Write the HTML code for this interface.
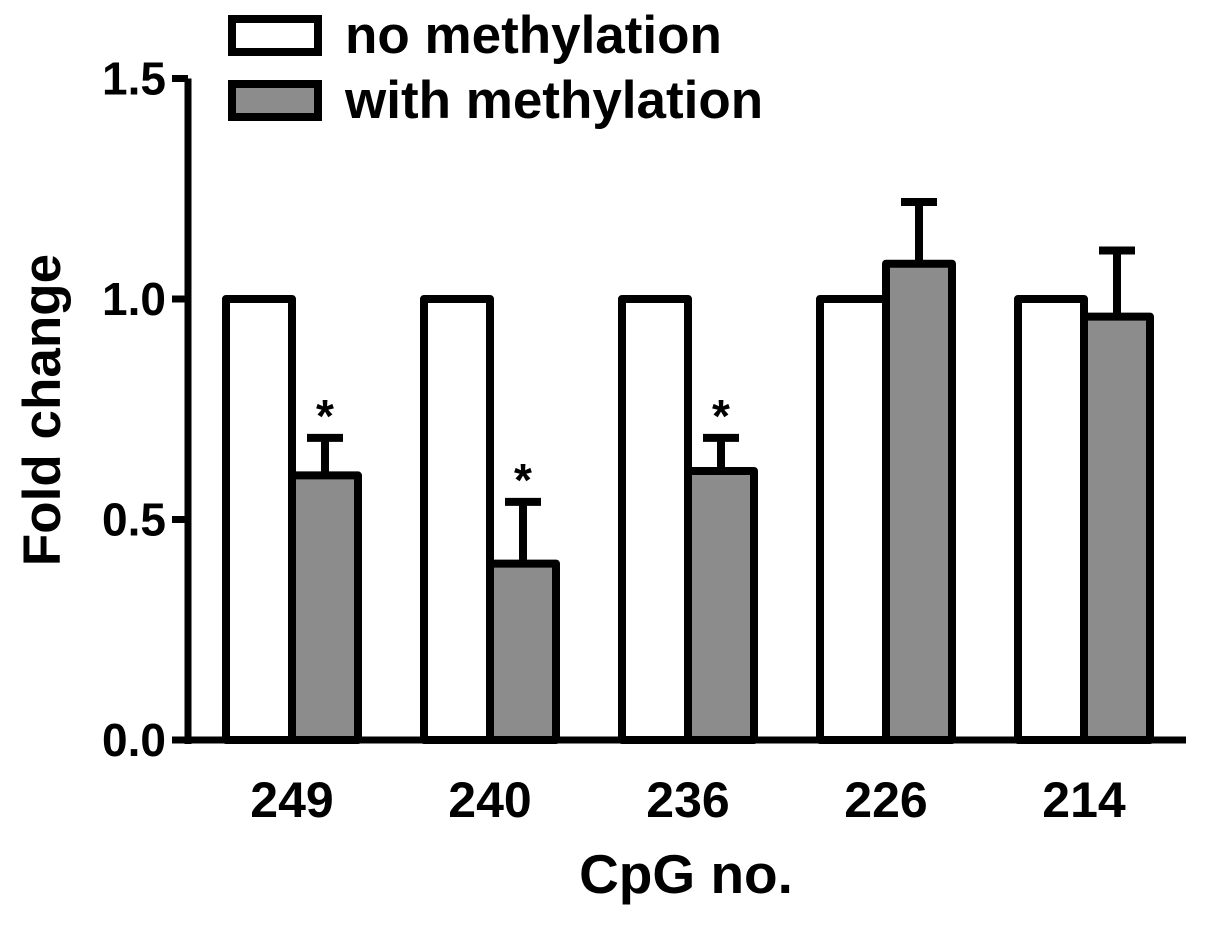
<!DOCTYPE html>
<html><head><meta charset="utf-8"><style>
body{margin:0;background:#fff;}
svg text{font-family:"Liberation Sans",Arial,sans-serif;font-weight:bold;fill:#000;}
</style></head><body>
<svg id="chart" width="1205" height="925" viewBox="0 0 1205 925" xmlns="http://www.w3.org/2000/svg">
<g id="legend">
 <rect x="232" y="19" width="86" height="33" fill="#fff" stroke="#000" stroke-width="8"/>
 <text x="345" y="53" font-size="53">no methylation</text>
 <rect x="232" y="84" width="86" height="33" fill="#8c8c8c" stroke="#000" stroke-width="8"/>
 <text x="345" y="118" font-size="53">with methylation</text>
</g>
<g id="bars"></g>
<g id="axes"></g>
<text transform="translate(60,410) rotate(-90)" text-anchor="middle" font-size="53">Fold change</text>
<text x="686" y="893" text-anchor="middle" font-size="55">CpG no.</text>
</svg>
<script>
const categories = ["249","240","236","226","214"];
const noMeth = [1,1,1,1,1];
const withMeth = [0.6,0.4,0.61,1.08,0.96];
const withMethErrTop = [0.685,0.54,0.685,1.22,1.11];
const significant = [true,true,true,false,false];
const yTicks = [0,0.5,1.0,1.5];
const yTickLabels = ["0.0","0.5","1.0","1.5"];

const NS="http://www.w3.org/2000/svg";
const y = v => 740 - v*441;
const xStart = i => 226 + i*198;
const bw = 66;
function mk(tag, attrs, parent){const e=document.createElementNS(NS,tag);for(const k in attrs)e.setAttribute(k,attrs[k]);parent.appendChild(e);return e;}
const bars=document.getElementById('bars');
const axes=document.getElementById('axes');
categories.forEach((c,i)=>{
  const x0=xStart(i);
  const b1=mk('rect',{x:x0,y:y(noMeth[i]),width:bw,height:y(0)-y(noMeth[i]),fill:'#fff',stroke:'#000','stroke-width':8,'stroke-linejoin':'round'},bars);
  
  
  const ex=x0+bw+bw/2;
  const eb=mk('path',{d:`M${ex},${y(withMeth[i])} V${y(withMethErrTop[i])} M${ex-18},${y(withMethErrTop[i])} H${ex+18}`,stroke:'#000','stroke-width':8,fill:'none'},bars);
  
  
  const b2=mk('rect',{x:x0+bw,y:y(withMeth[i]),width:bw,height:y(0)-y(withMeth[i]),fill:'#8c8c8c',stroke:'#000','stroke-width':8,'stroke-linejoin':'round'},bars);
  
  
  if(significant[i]){
    const s=mk('text',{x:ex,y:y(withMethErrTop[i])-6,'text-anchor':'middle','font-size':46},bars);
    s.textContent='*';
    
    
  }
  const t=mk('text',{x:x0+bw,y:817,'text-anchor':'middle','font-size':50},axes);
  t.textContent=c;
  
  
});
const ya=mk('path',{d:`M188,${y(1.5)} V${y(0)+4}`,stroke:'#000','stroke-width':7,fill:'none'},axes);


const xa=mk('path',{d:`M172,${y(0)} H1186`,stroke:'#000','stroke-width':7,fill:'none'},axes);


yTicks.forEach((v,i)=>{
  const tk=mk('path',{d:`M172,${y(v)} H188`,stroke:'#000','stroke-width':7},axes);
  
  
  const tl=mk('text',{x:166,y:y(v)+16,'text-anchor':'end','font-size':46},axes);
  tl.textContent=yTickLabels[i];
  
  
});
</script>
</body></html>
